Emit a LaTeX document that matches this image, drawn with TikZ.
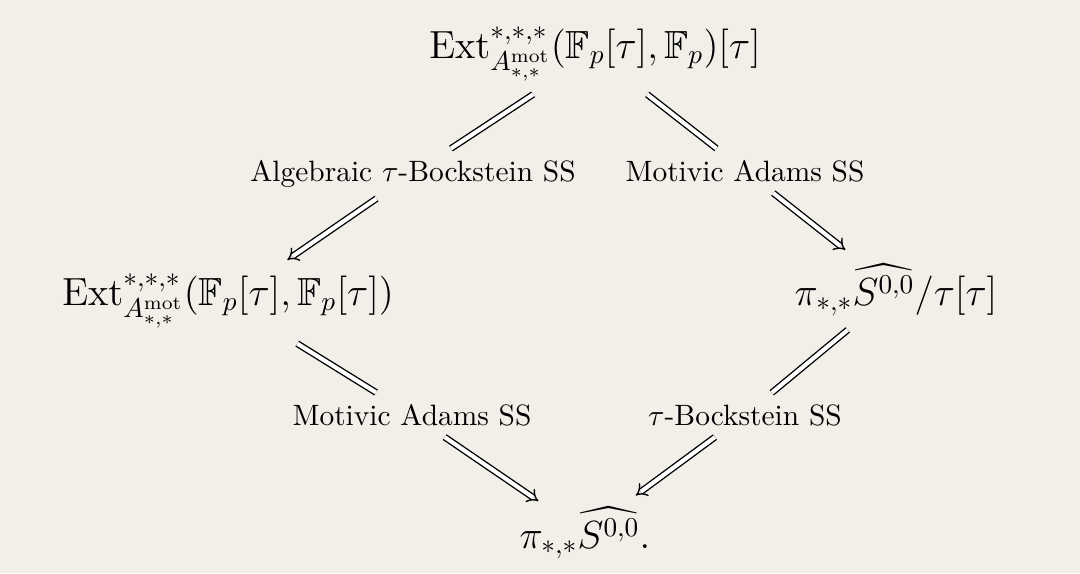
\documentclass[tikz,border=0pt]{standalone}
\usepackage{amssymb}
\usetikzlibrary{arrows.meta}
\definecolor{bg}{HTML}{F2EFE9}
\begin{document}
\begin{tikzpicture}[x=0.367pt,y=-0.367pt,
 main/.style={font=\Large, inner sep=2pt, outer sep=3pt},
 lab/.style={font=\fontsize{10.8}{13}\selectfont, inner xsep=2pt, inner ysep=4pt},
 dline/.style={double, double distance=1.5pt, line width=0.5pt},
 darrow/.style={dline, -{Implies[scale=1.25]}}]
\fill[bg] (0,0) rectangle (1080,573);
\useasboundingbox (0,0) rectangle (1080,573);
\node[main, anchor=base] (top) at (595,58) {$\mathrm{Ext}^{*,*,*}_{A^{\mathrm{mot}}_{*,*}}(\mathbb{F}_p[\tau],\mathbb{F}_p)[\tau]$};
\node[main, anchor=base] (left) at (228,305) {$\mathrm{Ext}^{*,*,*}_{A^{\mathrm{mot}}_{*,*}}(\mathbb{F}_p[\tau],\mathbb{F}_p[\tau])$};
\node[main, anchor=base] (right) at (896,305) {$\pi_{*,*}\widehat{S^{0,0}}/\tau[\tau]$};
\node[main, anchor=base, outer sep=0pt] (bot) at (585,548) {$\pi_{*,*}\widehat{S^{0,0}}.$};
\node[lab, anchor=base] (l1) at (413,181) {Algebraic $\tau$-Bockstein SS};
\node[lab, anchor=base] (l2) at (745,181) {Motivic Adams SS};
\node[lab, anchor=base] (l3) at (412,425) {Motivic Adams SS};
\node[lab, anchor=base] (l4) at (745,425) {$\tau$-Bockstein SS};
\draw[dline] (top) -- (l1);
\draw[darrow] (l1) -- (left);
\draw[dline] (top) -- (l2);
\draw[darrow] (l2) -- (right);
\draw[dline, shorten <=1.5pt] (left) -- (l3);
\draw[darrow] (l3) -- (bot);
\draw[dline] (right) -- (l4);
\draw[darrow, shorten >=3.5pt] (l4) -- (bot);
\end{tikzpicture}
\end{document}
